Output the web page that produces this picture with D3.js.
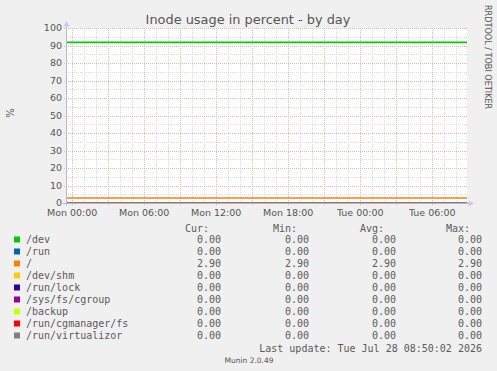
<!DOCTYPE html>
<html>
<head>
<meta charset="utf-8">
<script src="https://cdn.jsdelivr.net/npm/d3@7"></script>
<style>
  html, body { margin: 0; padding: 0; background: #f0f0f0; }
  svg { display: block; }
  text { font-family: "DejaVu Sans", sans-serif; fill: #555; }
  .mono { font-family: "DejaVu Sans Mono", monospace; font-size: 10px; fill: #5a5a5a; }
</style>
</head>
<body>
<div id="chart"></div>
<script>
// data
const seriesNames = ["/dev", "/run", "/", "/dev/shm", "/run/lock", "/sys/fs/cgroup", "/backup", "/run/cgmanager/fs", "/run/virtualizor"];
const seriesColors = ["#00cc00", "#0066b3", "#ff8000", "#ffcc00", "#330099", "#990099", "#ccff00", "#ff0000", "#808080"];
const plotLevels = [91.8, 0, 2.9, 0, 0, 0, 0, 0, 0];
const curValues = [0, 0, 2.9, 0, 0, 0, 0, 0, 0];
const minValues = [0, 0, 2.9, 0, 0, 0, 0, 0, 0];
const avgValues = [0, 0, 2.9, 0, 0, 0, 0, 0, 0];
const maxValues = [0, 0, 2.9, 0, 0, 0, 0, 0, 0];
const timeStart = new Date(2026, 6, 26, 23, 31, 30);
const timeEnd = new Date(2026, 6, 28, 8, 56, 30);
const yDomain = [0, 100];
const lastUpdate = "Last update: Tue Jul 28 08:50:02 2026";

const width = 497, height = 371;
const plot = {left: 66, right: 467, top: 28, bottom: 203};

const svg = d3.select("#chart").append("svg")
    .attr("width", width)
    .attr("height", height);

svg.append("rect").attr("width", width).attr("height", height).attr("fill", "#f0f0f0");
svg.append("rect")
    .attr("x", plot.left).attr("y", plot.top)
    .attr("width", plot.right - plot.left).attr("height", plot.bottom - plot.top)
    .attr("fill", "#fff");

const x = d3.scaleTime().domain([timeStart, timeEnd]).range([plot.left, plot.right]);
const y = d3.scaleLinear().domain(yDomain).range([plot.bottom, plot.top]);

// grid
const minorColor = "#dedede", majorColor = "#ecb8b8";
const grid = svg.append("g").attr("shape-rendering", "crispEdges");
grid.selectAll(".vminor")
    .data(x.ticks(d3.timeHour.every(1)))
    .join("line")
    .attr("x1", d => Math.round(x(d)) + 0.5).attr("x2", d => Math.round(x(d)) + 0.5)
    .attr("y1", plot.top).attr("y2", plot.bottom)
    .attr("stroke", minorColor).attr("stroke-dasharray", "1,1");
grid.selectAll(".hminor")
    .data(y.ticks(20))
    .join("line")
    .attr("y1", d => Math.round(y(d)) + 0.5).attr("y2", d => Math.round(y(d)) + 0.5)
    .attr("x1", plot.left).attr("x2", plot.right)
    .attr("stroke", minorColor).attr("stroke-dasharray", "1,1");
grid.selectAll(".vmajor")
    .data(x.ticks(d3.timeHour.every(3)))
    .join("line")
    .attr("x1", d => Math.round(x(d)) + 0.5).attr("x2", d => Math.round(x(d)) + 0.5)
    .attr("y1", plot.top).attr("y2", plot.bottom + 2)
    .attr("stroke", majorColor).attr("stroke-dasharray", "1,1");
grid.selectAll(".hmajor")
    .data(y.ticks(10))
    .join("line")
    .attr("y1", d => Math.round(y(d)) + 0.5).attr("y2", d => Math.round(y(d)) + 0.5)
    .attr("x1", plot.left - 2).attr("x2", plot.right)
    .attr("stroke", majorColor).attr("stroke-dasharray", "1,1");

// series lines
const line = d3.line().x(d => x(d[0])).y(d => y(d[1]));
svg.append("g").selectAll("path")
    .data(plotLevels)
    .join("path")
    .attr("d", d => line([[timeStart, d], [timeEnd, d]]))
    .attr("fill", "none")
    .attr("stroke", (d, i) => seriesColors[i])
    .attr("stroke-width", 1.6);

// axes
const axisColor = "#b8b8d8";
svg.append("line")
    .attr("x1", plot.left + 0.5).attr("x2", plot.left + 0.5)
    .attr("y1", plot.top - 4).attr("y2", plot.bottom + 2)
    .attr("stroke", axisColor);
svg.append("line")
    .attr("x1", plot.left - 3).attr("x2", plot.right + 3)
    .attr("y1", plot.bottom + 0.5).attr("y2", plot.bottom + 0.5)
    .attr("stroke", axisColor);
svg.append("path")
    .attr("d", `M${plot.left + 0.5},${plot.top - 7} L${plot.left - 2.5},${plot.top - 1.5} L${plot.left + 3.5},${plot.top - 1.5} Z`)
    .attr("fill", "#c8c8f4");
svg.append("path")
    .attr("d", `M${plot.right + 7},${plot.bottom + 0.5} L${plot.right + 1.5},${plot.bottom - 2.5} L${plot.right + 1.5},${plot.bottom + 3.5} Z`)
    .attr("fill", "#c8c8f4");

const yAxis = svg.append("g")
    .attr("transform", `translate(${plot.left - 3},-0.5)`)
    .call(d3.axisLeft(y).ticks(10).tickSize(0).tickPadding(1));
yAxis.select(".domain").remove();
yAxis.selectAll("text")
    .style("font-family", "DejaVu Sans, sans-serif")
    .style("font-size", "9.5px")
    .attr("fill", "#555");

const xAxis = svg.append("g")
    .attr("transform", `translate(0,${plot.bottom + 3})`)
    .call(d3.axisBottom(x).ticks(d3.timeHour.every(6)).tickSize(0).tickPadding(3)
        .tickFormat(d3.timeFormat("%a %H:%M")));
xAxis.select(".domain").remove();
xAxis.selectAll("text")
    .style("font-family", "DejaVu Sans, sans-serif")
    .style("font-size", "9.5px")
    .attr("fill", "#555");

// title and side texts
svg.append("text")
    .attr("x", 248).attr("y", 23.5)
    .attr("text-anchor", "middle")
    .style("font-size", "12.9px")
    .attr("fill", "#555")
    .text("Inode usage in percent - by day");

svg.append("text")
    .attr("transform", "translate(13.5,113) rotate(-90)")
    .attr("text-anchor", "middle")
    .style("font-size", "10px")
    .text("%");

svg.append("text")
    .attr("transform", "translate(485,5) rotate(90)")
    .style("font-size", "8.1px")
    .attr("fill", "#cacaca")
    .text("RRDTOOL / TOBI OETIKER");

// legend
const colRight = [221, 309, 396, 482];
const headers = ["Cur:", "Min:", "Avg:", "Max:"];
const columns = [curValues, minValues, avgValues, maxValues];
const rowY = i => 243 + i * 12;

const legend = svg.append("g");
legend.selectAll(".hdr")
    .data(headers)
    .join("text")
    .attr("class", "mono")
    .attr("x", (d, i) => colRight[i] - 12)
    .attr("y", 231.5)
    .attr("text-anchor", "end")
    .text(d => d);

const rows = legend.selectAll(".row")
    .data(seriesNames)
    .join("g");
rows.append("rect")
    .attr("x", 14).attr("y", (d, i) => rowY(i) - 6.5)
    .attr("width", 6).attr("height", 6)
    .attr("fill", (d, i) => seriesColors[i]);
rows.append("text")
    .attr("class", "mono")
    .attr("x", 26).attr("y", (d, i) => rowY(i))
    .text(d => d);
columns.forEach((vals, c) => {
    legend.selectAll(".col" + c)
        .data(vals)
        .join("text")
        .attr("class", "mono")
        .attr("x", colRight[c])
        .attr("y", (d, i) => rowY(i))
        .attr("text-anchor", "end")
        .text(d => d3.format(".2f")(d));
});

svg.append("text")
    .attr("class", "mono")
    .attr("x", 482).attr("y", 351.5)
    .attr("text-anchor", "end")
    .text(lastUpdate);

svg.append("text")
    .attr("x", 249).attr("y", 363)
    .attr("text-anchor", "middle")
    .style("font-size", "7.5px")
    .attr("fill", "#c8c8c8")
    .text("Munin 2.0.49");
</script>
</body>
</html>
